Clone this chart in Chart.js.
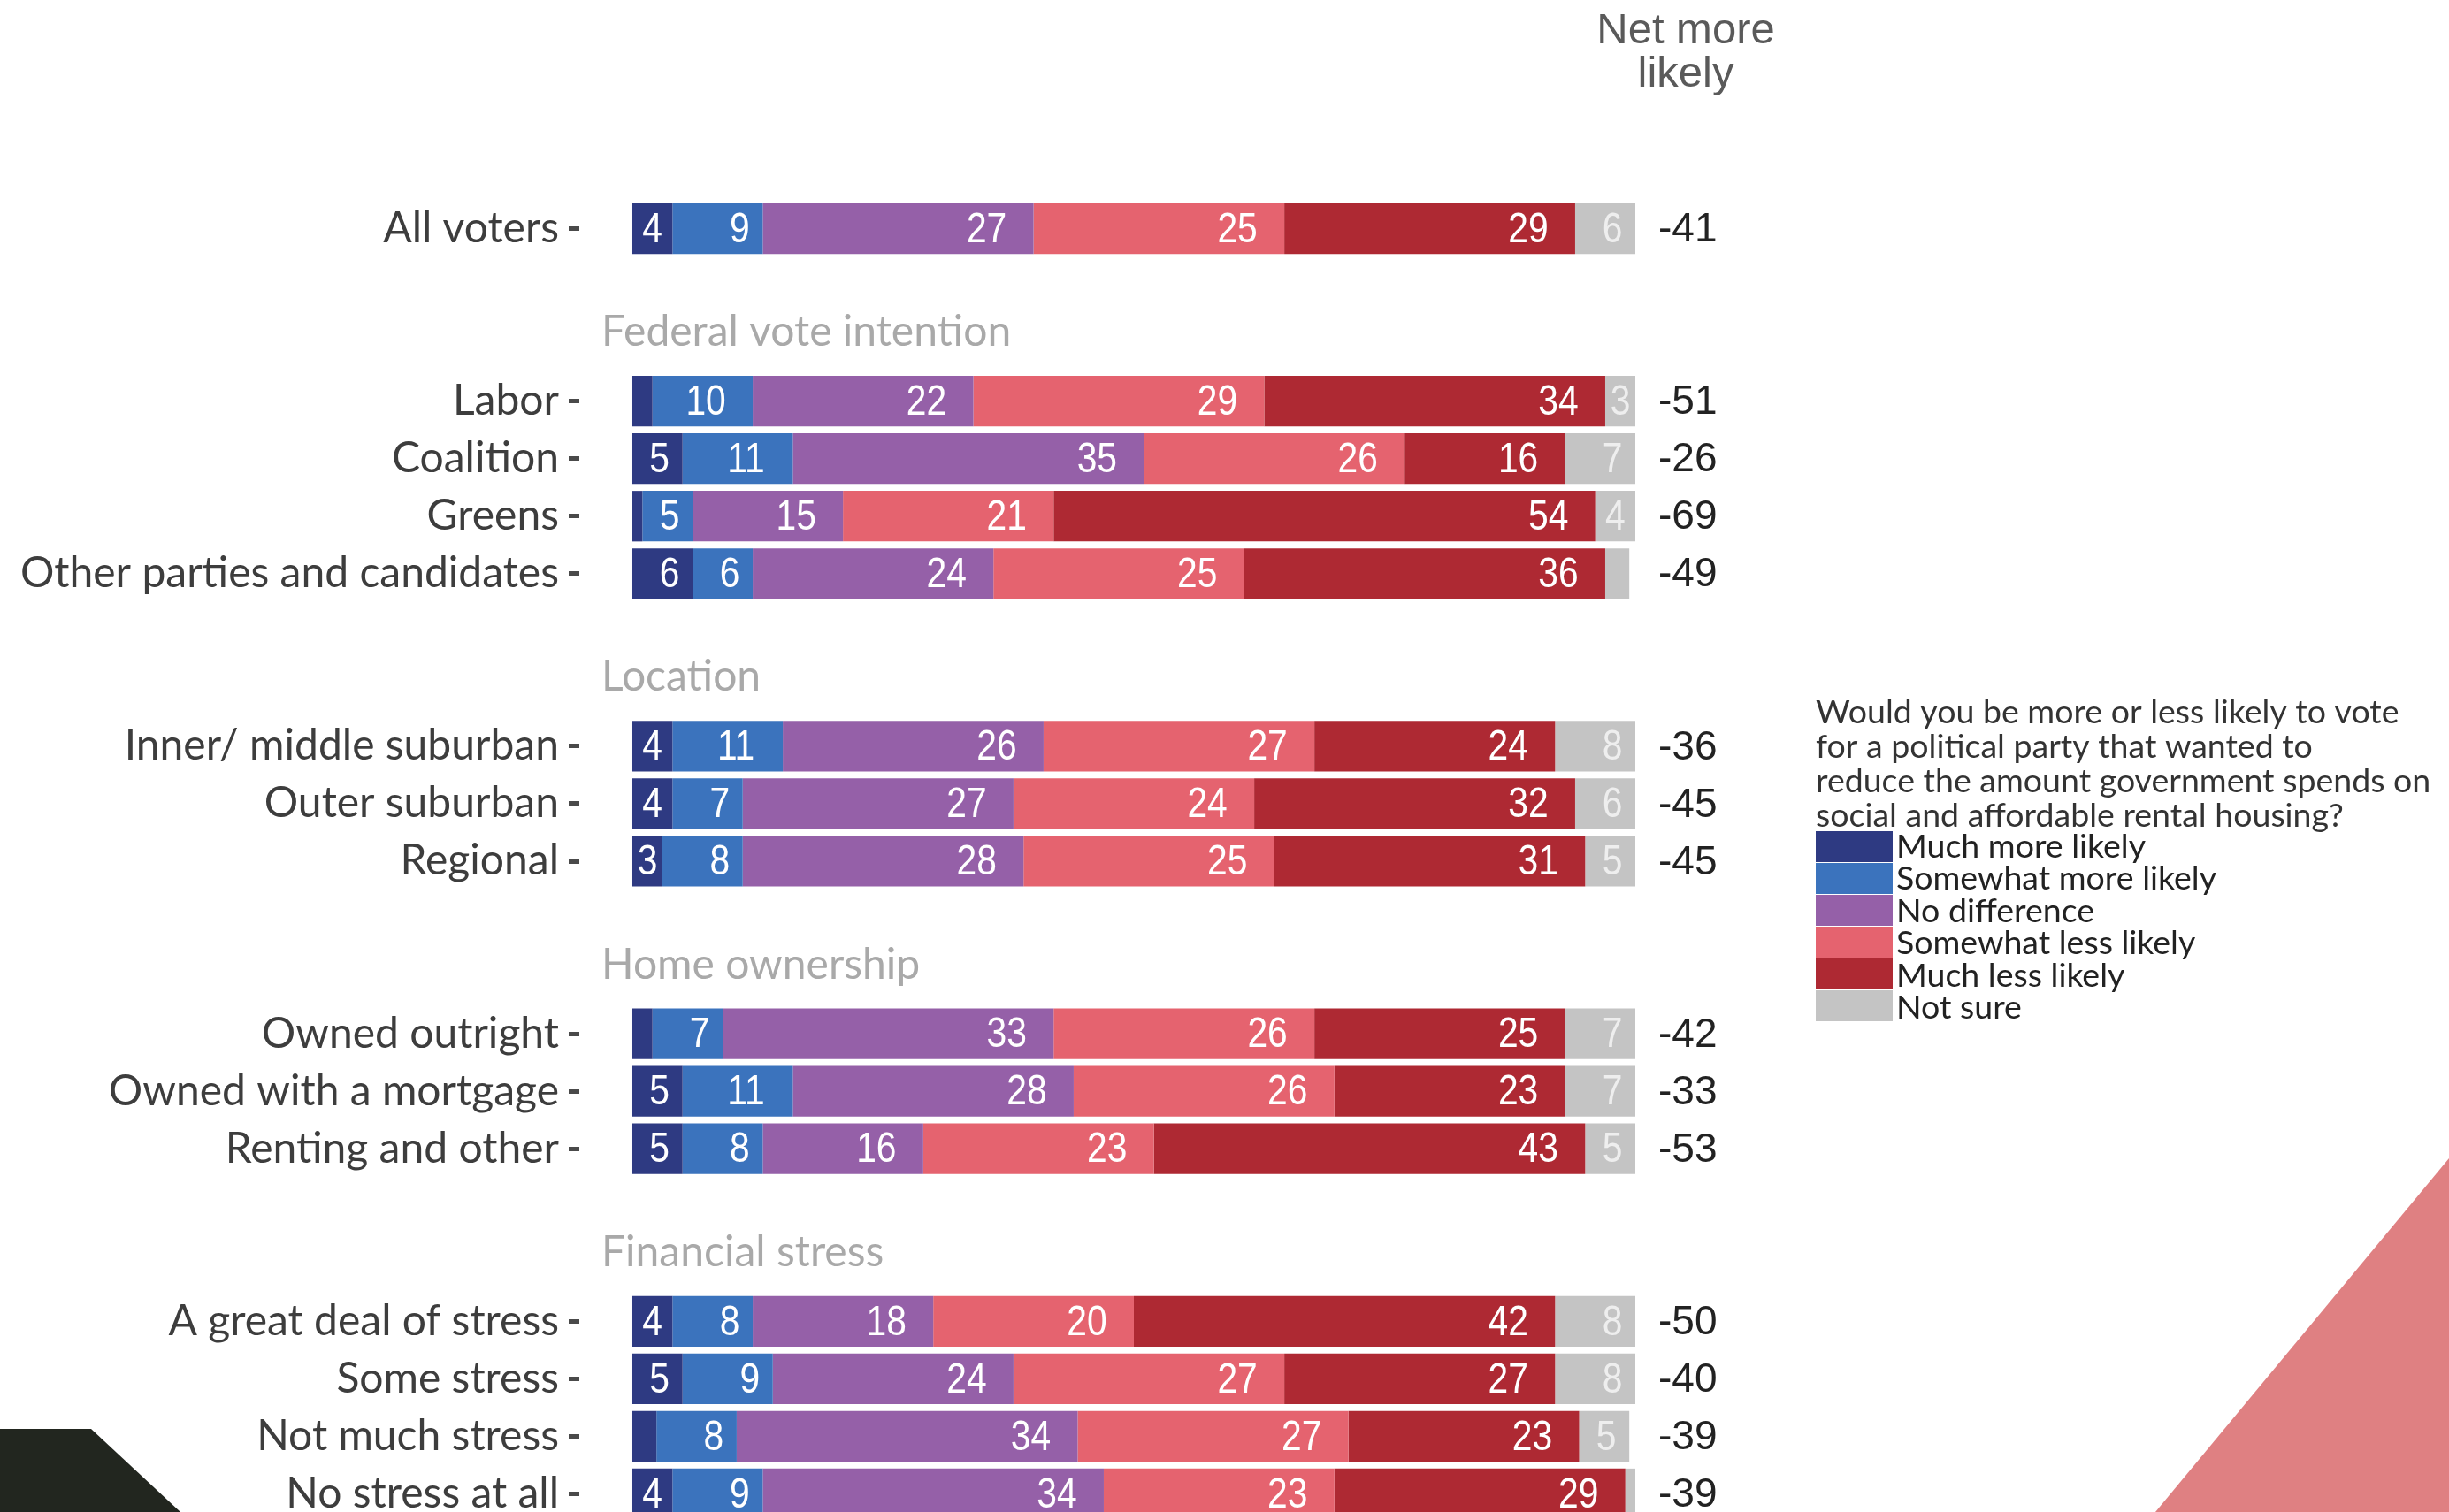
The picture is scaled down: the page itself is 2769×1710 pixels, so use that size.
<!DOCTYPE html>
<html>
<head>
<meta charset="utf-8">
<script src="https://cdn.jsdelivr.net/npm/chart.js"></script>
<style>
    body { margin: 0; overflow: hidden; background: #ffffff; width: 2769px; height: 1710px; position: relative; }
    #chart { position: absolute; left: 0; top: 0; }
    .corner-dark { position: absolute; left: 0; top: 1616px; width: 204px; height: 94px; background: #22261f;
        clip-path: polygon(0 0, 103px 0, 204px 94px, 0 94px); }
    .corner-pink { position: absolute; left: 2437px; top: 1310px; width: 332px; height: 400px; background: #df8082;
        clip-path: polygon(332px 0, 332px 400px, 0 400px); }
</style>
</head>
<body>
<canvas id="chart" width="2769" height="1722"></canvas>
<div class="corner-dark"></div>
<div class="corner-pink"></div>
<script>
const categories = [
    "All voters", "", "",
    "Labor", "Coalition", "Greens", "Other parties and candidates", "", "",
    "Inner/ middle suburban", "Outer suburban", "Regional", "", "",
    "Owned outright", "Owned with a mortgage", "Renting and other", "", "",
    "A great deal of stress", "Some stress", "Not much stress", "No stress at all"
];
const sectionHeaders = [
    "", "", "Federal vote intention",
    "", "", "", "", "", "Location",
    "", "", "", "", "Home ownership",
    "", "", "", "", "Financial stress",
    "", "", "", ""
];

const muchMore =     [4, null, null, 2, 5, 1, 6, null, null, 4, 4, 3, null, null, 2, 5, 5, null, null, 4, 5, 2.4, 4];
const somewhatMore = [9, null, null, 10, 11, 5, 6, null, null, 11, 7, 8, null, null, 7, 11, 8, null, null, 8, 9, 8, 9];
const noDifference = [27, null, null, 22, 35, 15, 24, null, null, 26, 27, 28, null, null, 33, 28, 16, null, null, 18, 24, 34, 34];
const somewhatLess = [25, null, null, 29, 26, 21, 25, null, null, 27, 24, 25, null, null, 26, 26, 23, null, null, 20, 27, 27, 23];
const muchLess =     [29, null, null, 34, 16, 54, 36, null, null, 24, 32, 31, null, null, 25, 23, 43, null, null, 42, 27, 23, 29];
const notSure =      [6, null, null, 3, 7, 4, 2.4, null, null, 8, 6, 5, null, null, 7, 7, 5, null, null, 8, 8, 5, 1];
const netMoreLikely = [-41, null, null, -51, -26, -69, -49, null, null, -36, -45, -45, null, null, -42, -33, -53, null, null, -50, -40, -39, -39];

const seriesNames = ["Much more likely", "Somewhat more likely", "No difference", "Somewhat less likely", "Much less likely", "Not sure"];
const colors = ["#2e3a82", "#3b73bd", "#9560a8", "#e5636f", "#ae2933", "#c4c4c4"];
const legendTitle = [
    "Would you be more or less likely to vote",
    "for a political party that wanted to",
    "reduce the amount government spends on",
    "social and affordable rental housing?"
];

const series = [muchMore, somewhatMore, noDifference, somewhatLess, muchLess, notSure];

const datasets = series.map((values, i) => ({
    label: seriesNames[i],
    data: values,
    backgroundColor: colors[i],
    borderWidth: 0,
    barPercentage: 0.88,
    categoryPercentage: 1
}));

// no narrow font installed, so squeeze the regular one
function narrowText(ctx, text, x, y, squeeze) {
    ctx.save();
    ctx.translate(x, y);
    ctx.scale(squeeze, 1);
    ctx.fillText(text, 0, 0);
    ctx.restore();
}

// numbers inside the bars, pushed toward the right end of each segment
const barLabels = {
    id: "barLabels",
    afterDatasetsDraw(chart) {
        const ctx = chart.ctx;
        ctx.save();
        ctx.font = "48px 'Liberation Sans', sans-serif";
        ctx.textAlign = "center";
        ctx.textBaseline = "middle";
        chart.data.datasets.forEach((ds, i) => {
            chart.getDatasetMeta(i).data.forEach((bar, j) => {
                const v = ds.data[j];
                if (v == null || v < 2.5) return;
                const text = String(Math.round(v));
                const offset = text.length > 1 ? 53 : 26;
                const x = Math.max((bar.x + bar.base) / 2, bar.x - offset);
                ctx.fillStyle = i === 5 ? "#eeeeee" : "#ffffff";
                narrowText(ctx, text, x, bar.y + 2, 0.85);
            });
        });
        ctx.restore();
    }
};

const extras = {
    id: "extras",
    afterDraw(chart) {
        const ctx = chart.ctx;
        const area = chart.chartArea;
        const yScale = chart.scales.y;
        const xScale = chart.scales.x;
        ctx.save();

        ctx.textBaseline = "middle";

        // net column
        ctx.font = "46px 'Liberation Sans', sans-serif";
        ctx.fillStyle = "#222";
        ctx.textAlign = "left";
        netMoreLikely.forEach((v, i) => {
            if (v == null) return;
            ctx.fillText(String(v), area.right + 26, yScale.getPixelForValue(i) + 2);
        });

        ctx.font = "49px 'Liberation Sans', sans-serif";
        ctx.fillStyle = "#5a5a5a";
        ctx.textAlign = "center";
        ctx.fillText("Net more", area.right + 57, 35);
        ctx.fillText("likely", area.right + 57, 84);

        // group headings
        ctx.font = "48px Lato";
        ctx.fillStyle = "#a9a9a9";
        ctx.textAlign = "left";
        sectionHeaders.forEach((h, i) => {
            if (!h) return;
            ctx.fillText(h, xScale.getPixelForValue(0) - 35, yScale.getPixelForValue(i) - 13);
        });

        // legend
        const lx = area.right + 204;
        ctx.font = "37.5px Lato";
        ctx.fillStyle = "#333";
        legendTitle.forEach((line, i) => ctx.fillText(line, lx, 806 + i * 39));
        seriesNames.forEach((name, i) => {
            const top = 940 + i * 36;
            ctx.fillStyle = colors[i];
            ctx.fillRect(lx, top, 87, 35);
            ctx.fillStyle = "#222";
            ctx.fillText(name, lx + 91, 958 + i * 36.4);
        });

        ctx.restore();
    }
};

new Chart(document.getElementById("chart").getContext("2d"), {
    type: "bar",
    data: {
        labels: categories,
        datasets: datasets
    },
    options: {
        indexAxis: "y",
        responsive: false,
        animation: false,
        devicePixelRatio: 1,
        layout: { padding: { top: 226, right: 920, bottom: 0, left: 0 } },
        plugins: {
            legend: { display: false },
            tooltip: { enabled: false }
        },
        scales: {
            x: { stacked: true, min: -5.29, max: 100, display: false },
            y: {
                stacked: true,
                offset: true,
                grid: {
                    display: true,
                    drawOnChartArea: false,
                    drawTicks: true,
                    offset: false,
                    tickLength: 12,
                    tickWidth: 5,
                    tickColor: (c) => categories[c.index] ? "#4a4a4a" : "rgba(0,0,0,0)"
                },
                border: { display: false },
                ticks: {
                    autoSkip: false,
                    padding: 11,
                    color: "#3d3d3d",
                    font: { size: 48, family: "Lato" }
                },
                afterFit(scale) {
                    scale.width = 655;
                    scale.paddingTop = 0;
                    scale.paddingBottom = 0;
                }
            }
        }
    },
    plugins: [barLabels, extras]
});
</script>
</body>
</html>
